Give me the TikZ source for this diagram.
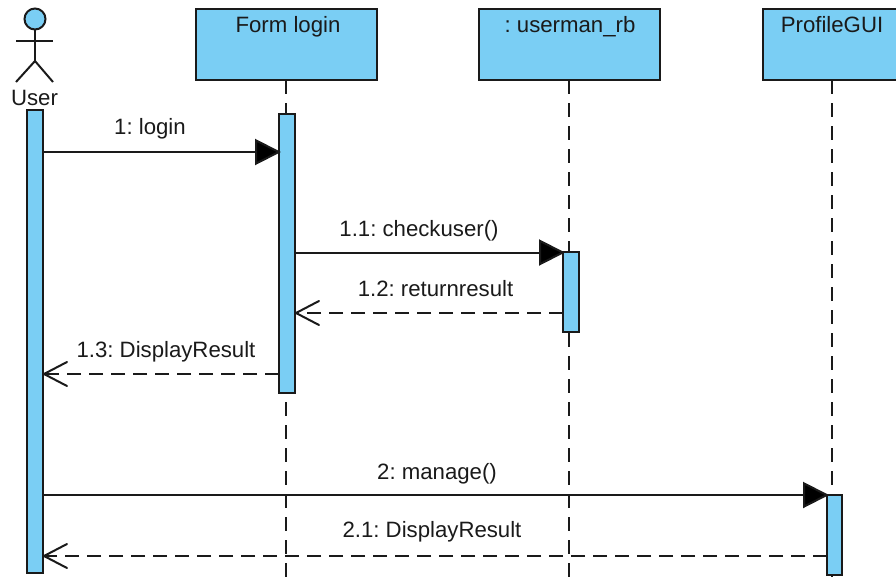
\documentclass[tikz,border=0pt]{standalone}
\usepackage{fontspec}
\setmainfont{Liberation Sans}
\usetikzlibrary{arrows.meta}
\definecolor{umlblue}{HTML}{7ACEF4}
\definecolor{umlline}{HTML}{1A1A1A}
\frenchspacing
\tikzset{
  x=1pt,y=-1pt,
  every node/.style={font=\frenchspacing\fontsize{22.2}{26}\selectfont,text=umlline},
  objbox/.style={draw=umlline,line width=2pt,fill=umlblue,minimum height=71pt,minimum width=181pt,inner sep=0pt,outer sep=0pt},
  objlabel/.style={inner sep=0pt,anchor=base},
  bar/.style={draw=umlline,line width=2pt,fill=umlblue,minimum width=16pt,inner sep=0pt,outer sep=0pt},
  lifeline/.style={draw=umlline,line width=2pt,dash pattern=on 14pt off 9pt},
  callarrow/.style={draw=umlline,line width=2pt,shorten >=-2pt,-{Triangle[length=26pt,width=26pt,fill=black]}},
  retarrow/.style={draw=umlline,line width=2pt,dash pattern=on 14pt off 8pt,-{Straight Barb[length=23pt,width=24pt,line width=2pt,round,sep=0pt]}},
  msg/.style={inner sep=0pt,anchor=base},
  stick/.style={draw=umlline,line width=2pt}
}
\begin{document}
\begin{tikzpicture}
\useasboundingbox (0,0) rectangle (896,578);
\clip (0,0) rectangle (896,578);
% object boxes
\node[objbox] (form) at (286.5,44.5) {};
\node[objbox] (rb) at (569.5,44.5) {};
\node[objbox] (prof) at (853.5,44.5) {};
\node[objlabel] at (288,33) {Form login};
\node[objlabel] at (570,33) {: userman\_rb};
\node[objlabel] at (832,33) {ProfileGUI};
% lifeline ends
\coordinate (endform) at (286,578);
\coordinate (endrb) at (569,578);
\coordinate (endprof) at (832,578);
\coordinate (startform) at (286,80);
\coordinate (startrb) at (569,80);
\coordinate (startprof) at (832,80);
\draw[lifeline] (startform) -- (endform);
\draw[lifeline] (startrb) -- (endrb);
\draw[lifeline] (startprof) -- (endprof);
% activation bars
\node[bar,minimum height=463pt] (auser) at (35,341.5) {};
\node[bar,minimum height=279pt] (aform) at (287,253.5) {};
\node[bar,minimum height=80pt] (arb) at (571,292) {};
\node[bar,minimum height=80pt,minimum width=15pt] (aprof) at (834.5,535) {};
% actor
\node[draw=umlline,line width=2pt,fill=umlblue,circle,minimum size=21pt,inner sep=0pt,outer sep=0pt] (head) at (35,19) {};
\coordinate (hip) at (35,61);
\coordinate (armL) at (16,41.5);
\coordinate (armR) at (53,41.5);
\coordinate (footL) at (16,82);
\coordinate (footR) at (53,82);
\draw[stick] (head.south) -- (hip);
\draw[stick] (armL) -- (armR);
\draw[stick] (footL) -- (hip) -- (footR);
\node[objlabel] at (34.5,105) {User};
% message levels
\coordinate (m1) at (0,152);
\coordinate (m2) at (0,252.5);
\coordinate (m3) at (0,313);
\coordinate (m4) at (0,374);
\coordinate (m5) at (0,495);
\coordinate (m6) at (0,556);
\draw[callarrow] (auser.east |- m1) -- (aform.west |- m1);
\draw[callarrow] (aform.east |- m2) -- (arb.west |- m2);
\draw[retarrow] (arb.west |- m3) -- (aform.east |- m3);
\draw[retarrow] (aform.west |- m4) -- (auser.east |- m4);
\draw[callarrow] (auser.east |- m5) -- (aprof.west |- m5);
\draw[retarrow] (aprof.west |- m6) -- (auser.east |- m6);
% message labels
\node[msg] at (150,134) {1: login};
\node[msg] at (419,236) {1.1: checkuser()};
\node[msg] at (435.5,296) {1.2: returnresult};
\node[msg] at (166,357) {1.3: DisplayResult};
\node[msg] at (437,479) {2: manage()};
\node[msg] at (432,537.5) {2.1: DisplayResult};
\end{tikzpicture}
\end{document}
